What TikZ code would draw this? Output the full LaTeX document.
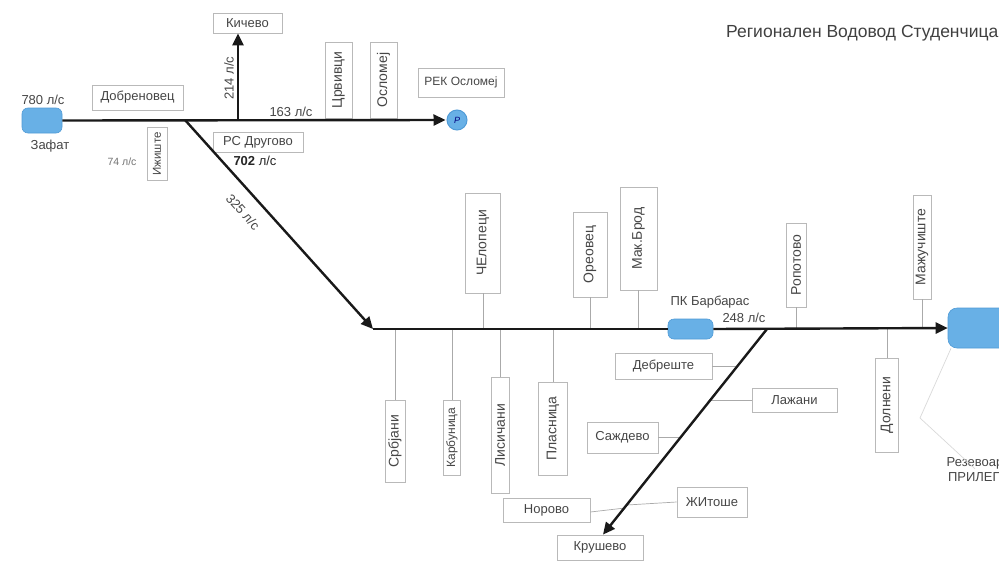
\documentclass[tikz,border=0pt]{standalone}
\usepackage{fontspec}
\setmainfont{Liberation Sans}
\usetikzlibrary{arrows.meta}
\definecolor{blobblue}{RGB}{104,176,230}
\definecolor{blobedge}{RGB}{80,155,215}
\definecolor{boxline}{RGB}{185,185,185}
\definecolor{connline}{RGB}{170,170,170}
\definecolor{txtcol}{RGB}{70,70,70}
\definecolor{pipecol}{RGB}{25,25,25}
\begin{document}
\begin{tikzpicture}[x=1pt,y=-1pt,
  lbl/.style={text=txtcol, font=\fontsize{13}{15}\selectfont, inner sep=0pt},
  boxbase/.style={draw=boxline, line width=0.8pt, fill=white, text=txtcol,
    font=\fontsize{13}{15}\selectfont, inner sep=0pt},
  hbox/.style 2 args={boxbase, minimum width=#1pt, minimum height=#2pt},
  vbox/.style 2 args={boxbase, font=\fontsize{14}{16}\selectfont, rotate=90,
    minimum width=#2pt, minimum height=#1pt},
  blob/.style 2 args={fill=blobblue, draw=blobedge, line width=0.6pt,
    rounded corners=6pt, minimum width=#1pt, minimum height=#2pt, inner sep=0pt},
  pipe/.style={draw=pipecol, line width=2.4pt},
  flowtip/.style={-{Triangle[length=12pt,width=11pt]}},
  conn/.style={draw=connline, line width=0.7pt}
]
\clip (0,0) rectangle (999,565);
\fill[white] (0,0) rectangle (999,565);

% ---------- title ----------
\node[lbl, anchor=west, font=\fontsize{17.5}{20}\selectfont, text=black!75] (title) at (726,33)
  {Регионален Водовод Студенчица};

% ---------- upper pipeline ----------
\node[blob={40}{25}] (zafat) at (42,120.5) {};
\node[lbl] (q780) at (43,100) {780 л/с};
\node[lbl] (lzafat) at (50,146) {Зафат};
\node[hbox={91}{25}] (dobr) at (137.5,97.5) {Добреновец};
\node[vbox={20}{53}, font=\fontsize{11.5}{13}\selectfont] (izh) at (157,154) {Ижиште};
\node[lbl, font=\fontsize{10.5}{12}\selectfont, text=black!55] (q74) at (122,162) {74 л/с};
\node[hbox={90}{20}] (drug) at (258,142) {РС Другово};
\node[lbl, text=black!85] (q702) at (255,161) {\textbf{702} л/с};
\node[hbox={69}{20}] (kich) at (247.5,23) {Кичево};
\node[lbl, rotate=90] (q214) at (229,78) {214 л/с};
\node[lbl] (q163) at (291,112) {163 л/с};
\node[vbox={27}{76}] (crv) at (338.5,80) {Црвивци};
\node[vbox={27}{76}] (osl) at (383.5,80) {Осломеј};
\node[hbox={86}{29}, font=\fontsize{12}{14}\selectfont] (rek) at (461,82.5) {РЕК Осломеј};
\node[circle, fill=blobblue, draw=blobedge, line width=1pt, minimum size=20pt,
  inner sep=0pt, font=\fontsize{9}{10}\selectfont\itshape, text=blue!50!black] (pc) at (457,120) {P};

\coordinate (j1) at (185,120);
\coordinate (j2) at (238,120);
\coordinate (j3) at (373,329);

\draw[pipe, flowtip, shorten >=1pt] (zafat.east) -- (pc.west);
\draw[pipe, flowtip] (j2) -- (j2 |- kich.south);
\draw[pipe, flowtip] (j1) -- (j3);
\node[lbl, rotate=-48] (q325) at (243,212) {325 л/с};

% ---------- lower pipeline ----------
\node[blob={45}{20}] (barb) at (690.5,329) {};
\node[lbl] (lbarb) at (710,302) {ПК Барбарас};
\node[lbl] (q248) at (744,318) {248 л/с};
\node[blob={62}{40}, rounded corners=9pt] (rez) at (979,328) {};
\node[lbl, align=center, font=\fontsize{13}{15}\selectfont] (lrez) at (975,470) {Резевоар\\ПРИЛЕП};

\coordinate (j4) at (767,329);

% villages above the line
\node[vbox={35}{100}] (chel) at (483,243) {ЧЕлопеци};
\node[vbox={34}{85}] (ore) at (590,254.5) {Ореовец};
\node[vbox={37}{103}] (mak) at (638.5,238.5) {Мак.Брод};
\node[vbox={20}{84}] (rop) at (796,265) {Ропотово};
\node[vbox={18}{104}] (maz) at (922,247) {Мажучиште};

% villages below the line
\node[vbox={20}{82}] (srb) at (395,441) {Србјани};
\node[vbox={17}{75}, font=\fontsize{12}{14}\selectfont] (karb) at (452,437.5) {Карбуница};
\node[vbox={18}{116}] (lis) at (500,435) {Лисичани};
\node[vbox={29}{93}] (pla) at (553,428.5) {Пласница};
\node[vbox={23}{94}] (dol) at (887,405) {Долнени};

% villages along the Krushevo branch
\node[hbox={97}{26}] (deb) at (663.5,366) {Дебреште};
\node[hbox={85}{24}] (laz) at (794.5,400) {Лажани};
\node[hbox={71}{31}] (saz) at (622.5,437.5) {Саждево};
\node[hbox={70}{30}] (zhi) at (712,502) {ЖИтоше};
\node[hbox={87}{24}] (nor) at (546.5,510) {Норово};
\node[hbox={86}{25}] (kru) at (600,547.5) {Крушево};

% branch points on the Krushevo pipe
\coordinate (b1) at (738,366);
\coordinate (b2) at (711,400);
\coordinate (b3) at (681,437.5);
\coordinate (b4) at (627,505);
\coordinate (b5) at (625,508);

% thin service connectors
\draw[conn] (chel.west) -- (chel.west |- j3);
\draw[conn] (ore.west) -- (ore.west |- j3);
\draw[conn] (mak.west) -- (mak.west |- j3);
\draw[conn] (rop.west) -- (rop.west |- j3);
\draw[conn] (maz.west) -- (maz.west |- j3);
\draw[conn] (srb.east |- j3) -- (srb.east);
\draw[conn] (karb.east |- j3) -- (karb.east);
\draw[conn] (lis.east |- j3) -- (lis.east);
\draw[conn] (pla.east |- j3) -- (pla.east);
\draw[conn] (dol.east |- j3) -- (dol.east);
\draw[conn] (deb.east) -- (b1);
\draw[conn] (b2) -- (laz.west);
\draw[conn] (saz.east) -- (b3);
\draw[conn] (b4) -- (zhi.west);
\draw[conn] ([yshift=-2pt]nor.east) -- (b5);

% reservoir callout
\coordinate (r1) at (920,418);
\draw[conn, draw=black!15] ([xshift=-28pt]rez.south) -- (r1) -- ([yshift=-11pt]lrez.north);

% main lower pipes
\draw[pipe] (j3) -- (barb.west);
\draw[pipe, flowtip] (barb.east) -- (rez.west);
\draw[pipe, flowtip] (j4) -- ([xshift=3pt]kru.north);
\end{tikzpicture}
\end{document}
